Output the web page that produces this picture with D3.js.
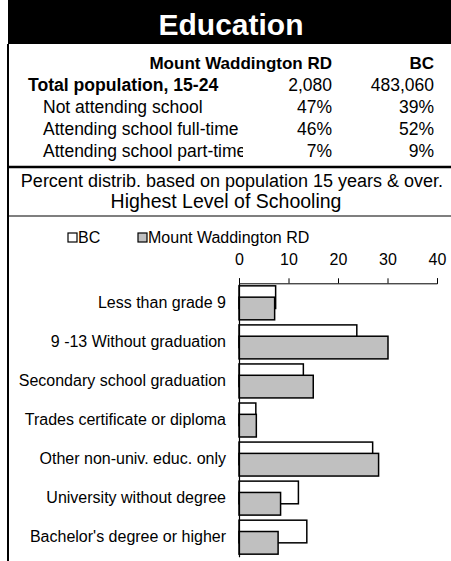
<!DOCTYPE html>
<html><head><meta charset="utf-8">
<script src="https://cdn.jsdelivr.net/npm/d3@7"></script>
<style>body{margin:0;background:#fff}svg{display:block}text{font-family:"Liberation Sans",Arial,sans-serif;fill:#000}</style>
</head><body>
<script>
const title = "Education";
const regionName = "Mount Waddington RD";
const compareName = "BC";
const tableRows = ["Total population, 15-24","Not attending school","Attending school full-time","Attending school part-time"];
const regionTable = ["2,080","47%","46%","7%"];
const bcTable = ["483,060","39%","52%","9%"];
const note = "Percent distrib. based on population 15 years & over.";
const chartTitle = "Highest Level of Schooling";
const categories = ["Less than grade 9","9 -13 Without graduation","Secondary school graduation","Trades certificate or diploma","Other non-univ. educ. only","University without degree","Bachelor's degree or higher"];
const bcValues = [7.4,23.8,13.0,3.4,27.0,12.0,13.7];
const regionValues = [7.2,30.1,15.0,3.5,28.2,8.4,7.9];
const ticks = [0,10,20,30,40];

const W=451,H=561;
const svg=d3.select("body").append("svg").attr("width",W).attr("height",H);

// header
svg.append("rect").attr("x",8).attr("y",0).attr("width",W-8).attr("height",44).attr("fill","#000");
svg.append("text").attr("x",231).attr("y",35).attr("text-anchor","middle").attr("font-size",30).attr("font-weight","bold").style("fill","#fff").text(title);
// left border
svg.append("line").attr("x1",8).attr("x2",8).attr("y1",44).attr("y2",H).attr("stroke","#000").attr("stroke-width",2);

// table
const colA=332,colB=434;
svg.append("text").attr("x",colA).attr("y",69).attr("text-anchor","end").attr("font-size",17).attr("font-weight","bold").text(regionName);
svg.append("text").attr("x",colB).attr("y",69).attr("text-anchor","end").attr("font-size",17).attr("font-weight","bold").text(compareName);
svg.append("defs").append("clipPath").attr("id","rowclip").append("rect").attr("x",0).attr("y",0).attr("width",243).attr("height",H);
tableRows.forEach((r,i)=>{
  const y=91+i*22;
  const t=svg.append("text").attr("x",i===0?28:43).attr("y",y).attr("font-size",i===0?17.6:17.5).attr("font-weight",i===0?"bold":"normal").text(r);
  if(i===3) t.attr("clip-path","url(#rowclip)");
  svg.append("text").attr("x",colA).attr("y",y).attr("text-anchor","end").attr("font-size",17.5).text(regionTable[i]);
  svg.append("text").attr("x",colB).attr("y",y).attr("text-anchor","end").attr("font-size",17.5).text(bcTable[i]);
});
svg.append("line").attr("x1",8).attr("x2",W).attr("y1",167).attr("y2",167).attr("stroke","#000").attr("stroke-width",2.5);
svg.append("text").attr("x",232).attr("y",187).attr("text-anchor","middle").attr("font-size",18).text(note);
svg.append("text").attr("x",226).attr("y",208).attr("text-anchor","middle").attr("font-size",19.5).text(chartTitle);
svg.append("line").attr("x1",8).attr("x2",W).attr("y1",216).attr("y2",216).attr("stroke","#000").attr("stroke-width",1.2);

// legend
const leg=[{name:compareName,fill:"#fff",x:68},{name:regionName,fill:"#c0c0c0",x:138}];
leg.forEach(l=>{
  svg.append("rect").attr("x",l.x).attr("y",233).attr("width",9).attr("height",9).attr("fill",l.fill).attr("stroke","#000").attr("stroke-width",1.2);
  svg.append("text").attr("x",l.x+10).attr("y",243).attr("font-size",16).text(l.name);
});

// chart
const x=d3.scaleLinear().domain([0,40]).range([239,437]);
const y=d3.scaleBand().domain(categories).range([283.3,556.7]);
const bh=y.bandwidth()*0.58, pad=(y.bandwidth()-bh*1.5)/2;

const gx=svg.append("g").attr("transform","translate(0,283.3)")
  .call(d3.axisTop(x).tickValues(ticks).tickSize(5).tickSizeOuter(5).tickPadding(13));
gx.selectAll("text").attr("font-size",16).style("font-family",'"Liberation Sans",Arial,sans-serif');
gx.selectAll("path,line").attr("stroke","#000").attr("stroke-width",1);

svg.append("g").selectAll("rect").data(categories).join("rect")
  .attr("x",x(0)).attr("y",d=>y(d)+pad).attr("height",bh)
  .attr("width",(d,i)=>x(bcValues[i])-x(0)).attr("fill","#fff").attr("stroke","#000").attr("stroke-width",1.5);
svg.append("g").selectAll("rect").data(categories).join("rect")
  .attr("x",x(0)).attr("y",d=>y(d)+pad+bh/2).attr("height",bh)
  .attr("width",(d,i)=>x(regionValues[i])-x(0)).attr("fill","#c0c0c0").attr("stroke","#000").attr("stroke-width",1.5);

const gy=svg.append("g").attr("transform",`translate(${x(0)},0)`)
  .call(d3.axisLeft(y).tickSize(0).tickPadding(13));
gy.selectAll("text").attr("font-size",16).style("font-family",'"Liberation Sans",Arial,sans-serif');
gy.select(".domain").attr("stroke","#000").attr("stroke-width",1.2);
</script>
</body></html>
